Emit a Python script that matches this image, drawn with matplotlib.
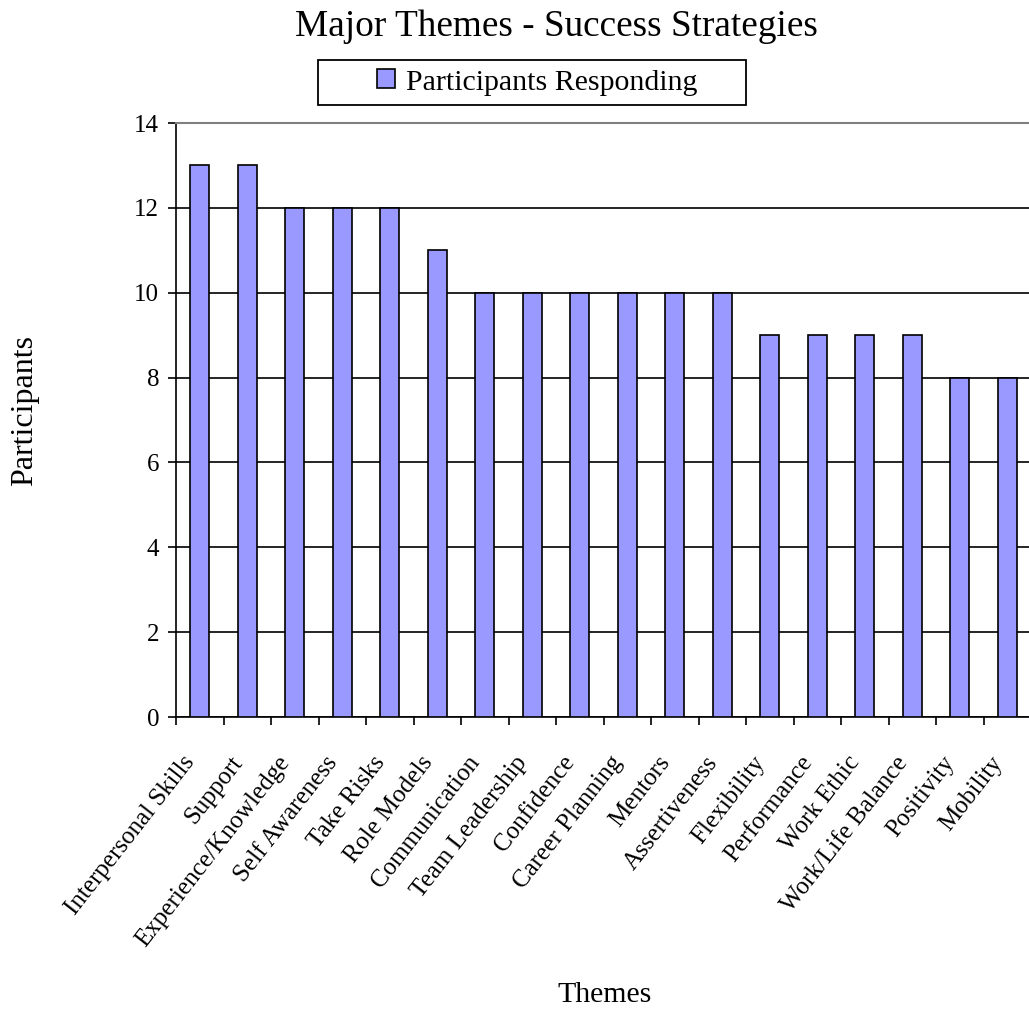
import matplotlib
matplotlib.use("Agg")
import matplotlib.pyplot as plt
from matplotlib.patches import Rectangle
from matplotlib.transforms import ScaledTranslation
import numpy as np

categories = ["Interpersonal Skills", "Support", "Experience/Knowledge", "Self Awareness",
              "Take Risks", "Role Models", "Communication", "Team Leadership", "Confidence",
              "Career Planning", "Mentors", "Assertiveness", "Flexibility", "Performance",
              "Work Ethic", "Work/Life Balance", "Positivity", "Mobility"]
participants = [13, 13, 12, 12, 12, 11, 10, 10, 10, 10, 10, 10, 9, 9, 9, 9, 8, 8]
yticks = [0, 2, 4, 6, 8, 10, 12, 14]

plt.rcParams['font.family'] = ['Liberation Serif', 'DejaVu Serif']

W, H = 1029, 1009
fig = plt.figure(figsize=(W / 100, H / 100), dpi=100)
left, right, bottom, top = 176, 1031, 717, 123
ax = fig.add_axes([left / W, (H - bottom) / H, (right - left) / W, (bottom - top) / H])

x = np.arange(len(categories))
ax.bar(x, participants, width=0.41, color='#9999FF', edgecolor='black', linewidth=1.2,
       label='Participants Responding', zorder=3)

ax.set_xlim(-0.5, len(categories) - 0.5)
ax.set_ylim(0, 14)
ax.set_yticks(yticks)
ax.yaxis.grid(True, color='black', linewidth=1.2, zorder=0)
ax.set_axisbelow(True)

ax.set_xticks(np.arange(len(categories) + 1) - 0.5)
ax.set_xticklabels([])
ax.set_xticks(x, minor=True)
ax.set_xticklabels(categories, minor=True, rotation=52, ha='right', va='center',
                   rotation_mode='anchor', fontsize=18)
ax.tick_params(axis='x', which='minor', length=0, pad=30)
ax.tick_params(axis='x', which='major', length=6, width=1.2, direction='out')
ax.tick_params(axis='y', length=6, width=1.2, direction='out', labelsize=18, pad=6)

offset = ScaledTranslation(-9 / 100, 0, fig.dpi_scale_trans)
for lab in ax.xaxis.get_minorticklabels():
    lab.set_transform(lab.get_transform() + offset)

ax.spines['right'].set_visible(False)
ax.spines['top'].set_color('#808080')
ax.spines['top'].set_linewidth(1.5)
ax.spines['left'].set_linewidth(1.2)
ax.spines['bottom'].set_linewidth(1.2)

fig.text(556 / W, 1 - 27 / H, 'Major Themes - Success Strategies', ha='center', va='center', fontsize=26.8)
fig.text(25 / W, 1 - 411 / H, 'Participants', rotation=90, ha='center', va='center', fontsize=23)
fig.text(605 / W, 1 - 995 / H, 'Themes', ha='center', va='center', fontsize=21.5)

leg = ax.legend(loc='center', bbox_to_anchor=(537.5 / W, 1 - 82.5 / H), bbox_transform=fig.transFigure,
                fontsize=21.5, frameon=False,
                handlelength=0.6, handleheight=0.6, handletextpad=0.38, borderpad=0,
                borderaxespad=0)
fig.add_artist(Rectangle((318 / W, 1 - 105 / H), 428 / W, 45 / H, transform=fig.transFigure,
                         fill=False, edgecolor='black', linewidth=1.3))

fig.savefig('out.png', dpi=100)
